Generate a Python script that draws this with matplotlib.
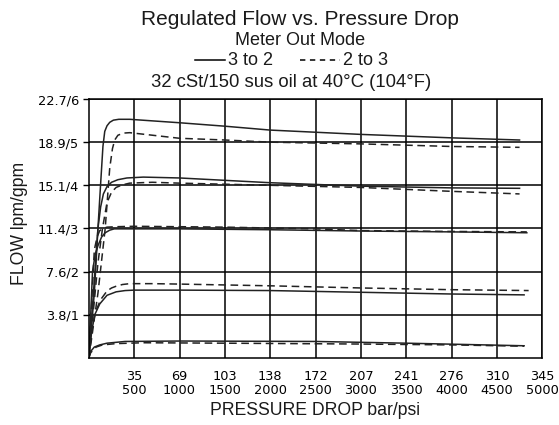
import matplotlib
matplotlib.use("Agg")
import matplotlib.pyplot as plt
from matplotlib.lines import Line2D

# chart values (psi on x, gpm on y)
psi_ticks = [500, 1000, 1500, 2000, 2500, 3000, 3500, 4000, 4500, 5000]
bar_labels = ["35", "69", "103", "138", "172", "207", "241", "276", "310", "345"]
gpm_ticks = [1, 2, 3, 4, 5, 6]
lpm_labels = ["3.8/1", "7.6/2", "11.4/3", "15.1/4", "18.9/5", "22.7/6"]

# "3 to 2" curves (solid)
s1_x = [0, 60, 100, 130, 155, 175, 200, 230, 270, 330, 450, 1000, 1500, 2000, 2500, 3000, 3500, 4000, 4750]
s1_y = [0, 1.5, 3.0, 4.05, 4.9, 5.25, 5.38, 5.46, 5.51, 5.53, 5.53, 5.45, 5.37, 5.28, 5.23, 5.18, 5.14, 5.1, 5.05]
s2_x = [0, 50, 100, 130, 160, 200, 250, 320, 420, 600, 1000, 2000, 3000, 4000, 4750]
s2_y = [0, 1.5, 3.0, 3.5, 3.8, 3.97, 4.07, 4.13, 4.17, 4.19, 4.17, 4.06, 3.98, 3.94, 3.93]
s3_x = [0, 40, 70, 100, 140, 180, 230, 280, 1000, 2000, 3000, 4000, 4830]
s3_y = [0, 2.0, 2.4, 2.6, 2.8, 2.9, 2.96, 2.99, 2.99, 2.97, 2.94, 2.92, 2.9]
s4_x = [0, 30, 65, 120, 200, 300, 400, 500, 1000, 2000, 3000, 4000, 4800]
s4_y = [0, 0.6, 1.0, 1.25, 1.45, 1.53, 1.56, 1.57, 1.57, 1.56, 1.52, 1.48, 1.46]
s5_x = [0, 20, 60, 120, 200, 400, 1000, 2500, 3500, 4800]
s5_y = [0, 0.15, 0.25, 0.3, 0.34, 0.38, 0.39, 0.38, 0.34, 0.28]

# "2 to 3" curves (dashed)
d1_x = [0, 100, 180, 230, 260, 285, 320, 380, 450, 1000, 1500, 2000, 3000, 4000, 4750]
d1_y = [0, 1.5, 3.0, 4.4, 4.85, 5.05, 5.16, 5.21, 5.22, 5.09, 5.05, 5.0, 4.96, 4.9, 4.88]
d2_x = [0, 100, 150, 200, 250, 300, 370, 450, 700, 1000, 2000, 3000, 4000, 4750]
d2_y = [0, 2.2, 3.0, 3.6, 3.84, 3.95, 4.01, 4.05, 4.07, 4.05, 4.0, 3.95, 3.86, 3.8]
d3_x = [0, 60, 90, 120, 160, 200, 300, 500, 1500, 2500, 3000, 4000, 4830]
d3_y = [0, 2.5, 2.8, 2.95, 3.0, 3.03, 3.04, 3.05, 3.03, 2.99, 2.95, 2.93, 2.92]
d4_x = [0, 30, 70, 130, 200, 250, 300, 370, 450, 700, 1000, 2000, 3000, 4000, 4850]
d4_y = [0, 0.6, 1.05, 1.35, 1.55, 1.62, 1.66, 1.7, 1.72, 1.72, 1.71, 1.67, 1.62, 1.58, 1.56]
d5_x = [0, 20, 80, 150, 300, 600, 1500, 3000, 4000, 4800]
d5_y = [0, 0.12, 0.25, 0.3, 0.33, 0.35, 0.34, 0.32, 0.3, 0.27]

solid = [(s1_x, s1_y), (s2_x, s2_y), (s3_x, s3_y), (s4_x, s4_y), (s5_x, s5_y)]
dashed = [(d1_x, d1_y), (d2_x, d2_y), (d3_x, d3_y), (d4_x, d4_y), (d5_x, d5_y)]

plt.rcParams['font.family'] = ['Liberation Sans', 'DejaVu Sans']
txt_col = '#1a1a1a'

fig = plt.figure(figsize=(5.59, 4.25), dpi=100)
ax = fig.add_axes([0.159, 0.158, 0.811, 0.609])

for x, y in solid:
    ax.plot(x, y, color='#222222', linewidth=1.1)
for x, y in dashed:
    ax.plot(x, y, color='#222222', linewidth=1.1, dashes=(5, 3))

ax.set_xlim(0, 5000)
ax.set_ylim(0, 6)
ax.set_xticks(psi_ticks)
ax.set_xticklabels([b + "\n" + str(p) for b, p in zip(bar_labels, psi_ticks)],
                   fontfamily='DejaVu Sans', fontsize=9.3, linespacing=1.05)
ax.set_yticks(gpm_ticks)
ax.set_yticklabels(lpm_labels, fontfamily='DejaVu Sans', fontsize=9.3)
ax.tick_params(axis='x', length=0, pad=9)
ax.tick_params(axis='y', length=4, width=1, pad=3, direction='out')
ax.grid(True, color='black', linewidth=1.1)
for sp in ax.spines.values():
    sp.set_linewidth(1.1)

ax.set_xlabel("PRESSURE DROP bar/psi", fontsize=12.7, labelpad=4, color=txt_col)
ax.set_ylabel("FLOW lpm/gpm", fontsize=12.7, color=txt_col)
ax.yaxis.set_label_coords(-0.135, 0.52)

fig.text(0.537, 0.941, "Regulated Flow vs. Pressure Drop", ha='center', va='baseline', fontsize=15, color=txt_col)
fig.text(0.537, 0.894, "Meter Out Mode", ha='center', va='baseline', fontsize=13, color=txt_col)
fig.text(0.520, 0.795, "32 cSt/150 sus oil at 40\u00b0C (104\u00b0F)", ha='center', va='baseline', fontsize=13.3, color=txt_col)

# legend row
fig.add_artist(Line2D([195 / 559, 225 / 559], [0.860, 0.860], color='black', linewidth=1.1))
fig.text(228 / 559, 0.847, "3 to 2", ha='left', va='baseline', fontsize=13, color=txt_col)
fig.add_artist(Line2D([300 / 559, 340 / 559], [0.860, 0.860], color='black', linewidth=1.1, dashes=(3.5, 3)))
fig.text(343 / 559, 0.847, "2 to 3", ha='left', va='baseline', fontsize=13, color=txt_col)

fig.savefig("out.png", dpi=100)
